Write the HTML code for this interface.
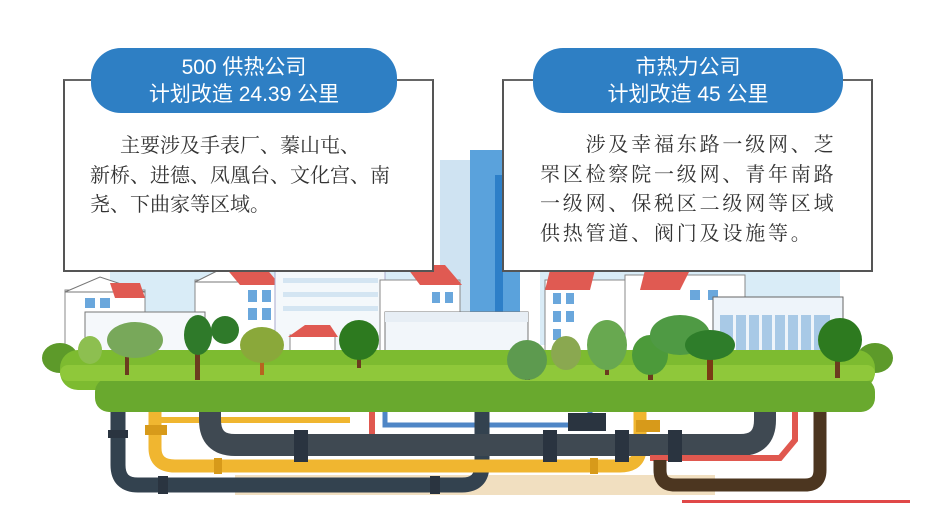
<!DOCTYPE html>
<html><head><meta charset="utf-8"><style>
html,body{margin:0;padding:0;background:#fff;}
#w{position:relative;width:939px;height:516px;overflow:hidden;background:#fff;font-family:"Liberation Sans","Noto Sans CJK SC",sans-serif;}
svg{position:absolute;left:0;top:0;}
.box{position:absolute;background:#fff;border:2px solid #555;border-top-color:#666;box-sizing:border-box;}
.pill{position:absolute;background:#2e7fc4;border-radius:30px;color:#fff;text-align:center;font-size:21px;line-height:27px;padding-top:6px;box-sizing:border-box;font-family:"Liberation Sans","Noto Sans CJK SC",sans-serif;}
.txt{position:absolute;font-family:"Liberation Serif","Noto Serif CJK SC",serif;font-size:20px;line-height:29.5px;color:#333;white-space:nowrap;}
</style></head><body><div id="w">
<svg width="939" height="516" viewBox="0 0 939 516">
<rect x="110" y="265" width="330" height="90" fill="#d9ecf7"/>
<rect x="540" y="255" width="300" height="90" fill="#d9ecf7"/>
<rect x="440" y="160" width="80" height="190" fill="#cfe3f2"/>
<rect x="470" y="150" width="50" height="200" fill="#5aa2dc"/>
<g fill="#2d7fc8"><rect x="495" y="175" width="8" height="160"/></g>
<rect x="65" y="290" width="80" height="70" fill="#fff" stroke="#888"/>
<polygon points="65,292 100,277 145,292" fill="#fff" stroke="#777"/>
<polygon points="110,283 140,283 145,298 115,298" fill="#e05a52"/>
<rect x="85" y="298" width="10" height="10" fill="#6aa7dc"/><rect x="100" y="298" width="10" height="10" fill="#6aa7dc"/>
<rect x="195" y="280" width="85" height="80" fill="#fff" stroke="#888"/>
<polygon points="195,282 225,267 280,282" fill="#fff" stroke="#777"/>
<polygon points="225,267 265,267 280,285 240,285" fill="#e05a52"/>
<g fill="#6aa7dc"><rect x="248" y="290" width="9" height="12"/><rect x="262" y="290" width="9" height="12"/><rect x="248" y="308" width="9" height="12"/><rect x="262" y="308" width="9" height="12"/></g>
<rect x="275" y="265" width="110" height="95" fill="#f4f8fb" stroke="#aac"/>
<g fill="#d4e5f2"><rect x="283" y="278" width="95" height="5"/><rect x="283" y="292" width="95" height="5"/><rect x="283" y="306" width="95" height="5"/></g>
<rect x="380" y="280" width="80" height="80" fill="#fff" stroke="#888"/>
<polygon points="405,265 445,265 462,285 420,285" fill="#e05a52"/>
<g fill="#6aa7dc"><rect x="432" y="292" width="8" height="11"/><rect x="445" y="292" width="8" height="11"/></g>
<rect x="85" y="312" width="120" height="48" fill="#f5f8fb" stroke="#777"/>
<rect x="385" y="312" width="143" height="52" fill="#f2f6fa" stroke="#777"/>
<rect x="385" y="312" width="143" height="10" fill="#e7eef5"/>
<rect x="290" y="335" width="45" height="30" fill="#fff" stroke="#888"/>
<polygon points="288,337 305,325 330,325 338,337" fill="#e05a52"/>
<rect x="545" y="280" width="80" height="80" fill="#fff" stroke="#888"/>
<polygon points="550,270 595,270 590,290 545,290" fill="#e05a52"/>
<g fill="#6aa7dc"><rect x="553" y="293" width="8" height="11"/><rect x="566" y="293" width="8" height="11"/><rect x="553" y="311" width="8" height="11"/><rect x="566" y="311" width="8" height="11"/><rect x="553" y="329" width="8" height="11"/></g>
<rect x="625" y="275" width="120" height="85" fill="#fff" stroke="#888"/>
<polygon points="645,270 690,270 680,290 640,290" fill="#e05a52"/>
<g fill="#6aa7dc"><rect x="690" y="290" width="10" height="10"/><rect x="708" y="290" width="10" height="10"/></g>
<rect x="713" y="297" width="130" height="63" fill="#eef4fa" stroke="#666"/>
<g fill="#a8c9e6"><rect x="720" y="315" width="110" height="40"/></g>
<g fill="#eef4fa"><rect x="733" y="315" width="3" height="40"/><rect x="746" y="315" width="3" height="40"/><rect x="759" y="315" width="3" height="40"/><rect x="772" y="315" width="3" height="40"/><rect x="785" y="315" width="3" height="40"/><rect x="798" y="315" width="3" height="40"/><rect x="811" y="315" width="3" height="40"/></g>
<rect x="235" y="475" width="480" height="20" fill="#f1dfc0"/>
<g fill="none" stroke-linecap="butt">
<path d="M385 400 L385 425 L590 425 L590 400" stroke="#4f86c6" stroke-width="5"/>
<path d="M372 400 L372 440" stroke="#e0584f" stroke-width="6"/>
<path d="M118 400 L118 465 Q118 485 138 485 L462 485 Q482 485 482 465 L482 400" stroke="#33424f" stroke-width="15"/>
<path d="M155 400 L155 448 Q155 466 175 466 L620 466 Q640 466 640 448 L640 400" stroke="#f0b630" stroke-width="13"/>
<path d="M155 420 L350 420" stroke="#f0b630" stroke-width="6"/>
<path d="M210 400 L210 420 Q210 445 235 445 L740 445 Q765 445 765 420 L765 400" stroke="#3f4952" stroke-width="22"/>
<path d="M795 400 L795 440 L780 458 L650 458" stroke="#e0584f" stroke-width="6"/>
<path d="M820 400 L820 470 Q820 485 805 485 L675 485 Q660 485 660 470 L660 460" stroke="#4c3620" stroke-width="13"/>
</g>
<g fill="#2a3440"><rect x="294" y="430" width="14" height="32"/><rect x="543" y="430" width="14" height="32"/><rect x="615" y="430" width="14" height="32"/><rect x="668" y="430" width="14" height="32"/><rect x="568" y="413" width="38" height="18"/><rect x="158" y="476" width="10" height="18"/><rect x="430" y="476" width="10" height="18"/><rect x="108" y="430" width="20" height="8"/></g>
<g fill="#d79a1a"><rect x="145" y="425" width="22" height="10"/><rect x="214" y="458" width="8" height="16"/><rect x="590" y="458" width="8" height="16"/><rect x="636" y="420" width="24" height="12"/></g>
<ellipse cx="60" cy="358" rx="18" ry="15" fill="#5d9a2a"/>
<ellipse cx="875" cy="358" rx="18" ry="15" fill="#5d9a2a"/>
<rect x="60" y="350" width="815" height="40" rx="18" fill="#7dbb30"/>
<rect x="95" y="378" width="780" height="34" rx="14" fill="#69a92e"/>
<rect x="60" y="365" width="815" height="16" rx="8" fill="#8fc83a"/>
<g>
<rect x="125" y="345" width="4" height="30" fill="#6b3b1f"/><ellipse cx="135" cy="340" rx="28" ry="18" fill="#78a85a"/>
<rect x="195" y="345" width="5" height="35" fill="#6b3b1f"/><ellipse cx="198" cy="335" rx="14" ry="20" fill="#2f7a2a"/>
<ellipse cx="225" cy="330" rx="14" ry="14" fill="#2f7a2a"/>
<rect x="260" y="345" width="4" height="30" fill="#b7641f"/><ellipse cx="262" cy="345" rx="22" ry="18" fill="#8aa83a"/>
<rect x="357" y="340" width="4" height="28" fill="#6b3b1f"/><ellipse cx="359" cy="340" rx="20" ry="20" fill="#2d7a1f"/>
<ellipse cx="90" cy="350" rx="12" ry="14" fill="#8dbf50"/>
<rect x="525" y="355" width="5" height="25" fill="#6b3b1f"/><ellipse cx="527" cy="360" rx="20" ry="20" fill="#5d9a4f"/>
<ellipse cx="566" cy="353" rx="15" ry="17" fill="#8aa850"/>
<rect x="605" y="340" width="4" height="35" fill="#6b3b1f"/><ellipse cx="607" cy="345" rx="20" ry="25" fill="#68a850"/>
<rect x="648" y="350" width="5" height="30" fill="#6b3b1f"/><ellipse cx="650" cy="355" rx="18" ry="20" fill="#4c9a3a"/>
<ellipse cx="680" cy="335" rx="30" ry="20" fill="#4f9a44"/>
<rect x="707" y="350" width="6" height="30" fill="#7a3a14"/><ellipse cx="710" cy="345" rx="25" ry="15" fill="#2e7d2a"/>
<rect x="835" y="340" width="5" height="38" fill="#6b3b1f"/><ellipse cx="840" cy="340" rx="22" ry="22" fill="#2d7a1f"/>
</g>
<rect x="682" y="500" width="228" height="3" fill="#e04848"/>
</svg>
<div class="box" style="left:63px;top:79px;width:371px;height:193px;"></div>
<div class="box" style="left:502px;top:79px;width:371px;height:193px;"></div>
<div class="pill" style="left:91px;top:48px;width:306px;height:65px;">500 供热公司<br>计划改造 24.39 公里</div>
<div class="pill" style="left:533px;top:48px;width:310px;height:65px;">市热力公司<br>计划改造 45 公里</div>
<div class="txt" style="left:90px;top:132px;">&emsp;&ensp;主要涉及手表厂、蓁山屯、<br>新桥、进德、凤凰台、文化宫、南<br>尧、下曲家等区域。</div>
<div class="txt" style="left:540px;top:131px;letter-spacing:2.8px;">&emsp;&emsp;涉及幸福东路一级网、芝<br>罘区检察院一级网、青年南路<br>一级网、保税区二级网等区域<br>供热管道、阀门及设施等。</div>
</div></body></html>
